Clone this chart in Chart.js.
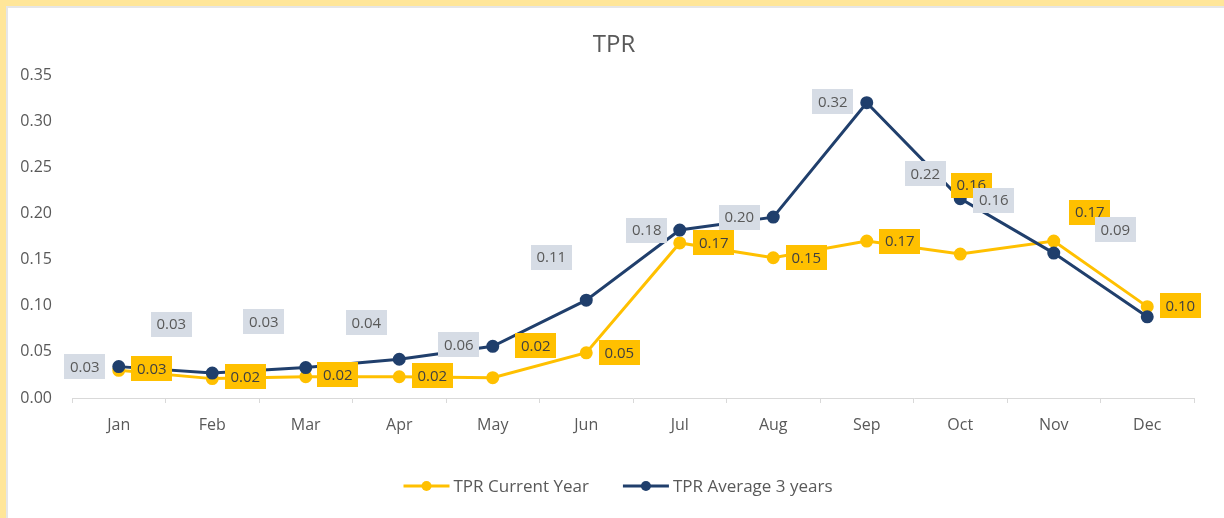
<!DOCTYPE html>
<html>
<head>
<meta charset="utf-8">
<script src="https://cdn.jsdelivr.net/npm/chart.js@4/dist/chart.umd.min.js"></script>
<style>
  html, body { margin: 0; padding: 0; background: #ffffff; }
  #wrap { position: relative; width: 1224px; height: 518px; overflow: hidden; }
  canvas { position: absolute; left: 0; top: 0; }
  .band-top { position: absolute; left: 0; top: 0; width: 1224px; height: 6px; background: #FFE699; }
  .band-left { position: absolute; left: 0; top: 0; width: 6px; height: 518px; background: #FFE699; }
  .line-top { position: absolute; left: 6px; top: 6px; width: 1218px; height: 2px; background: #e6e6e6; }
  .line-left { position: absolute; left: 6px; top: 6px; width: 2px; height: 512px; background: #e6e6e6; }
</style>
</head>
<body>
<div id="wrap">
  <canvas id="c" width="1224" height="518"></canvas>
  <div class="line-top"></div>
  <div class="line-left"></div>
  <div class="band-top"></div>
  <div class="band-left"></div>
</div>
<script>
// ---- data ----
const months = ['Jan','Feb','Mar','Apr','May','Jun','Jul','Aug','Sep','Oct','Nov','Dec'];
const currentYearLabel = 'TPR Current Year';
const average3Label = 'TPR Average 3 years';
const currentYear = [0.030, 0.021, 0.023, 0.023, 0.022, 0.049, 0.168, 0.152, 0.170, 0.156, 0.170, 0.099];
const average3Years = [0.034, 0.027, 0.033, 0.042, 0.056, 0.106, 0.182, 0.196, 0.320, 0.216, 0.157, 0.088];
const yTicks = [0, 0.05, 0.10, 0.15, 0.20, 0.25, 0.30, 0.35];
const chartTitle = 'TPR';

// ---- styling ----
const FONT = '"Open Sans", "Noto Sans", sans-serif';
const TEXT = '#595959';
const YELLOW = '#FFC000';
const NAVY = '#203F6C';
const NAVY_BOX = '#D6DCE5';

// label placement offsets (pixels, relative to each point) – mimic the reference's data labels
const curLabelOffsets = [[33,-2],[33,-2],[32,-2],[33,-1],[43,-32],[33,0],[34,0],[33,0],[33,0],[11,-69],[36,-29],[33,-1]];
const avgLabelOffsets = [[-34,0],[-41,-49],[-42,-46],[-33,-37],[-34,-2],[-35,-43],[-33,0],[-34,0],[-34,-1],[-35,-25],[-60,-53],[-32,-87]];

const titlePlugin = {
  id: 'customTitle',
  afterDraw(chart) {
    const ctx = chart.ctx;
    ctx.save();
    ctx.font = '24px ' + FONT;
    ctx.fillStyle = TEXT;
    ctx.textAlign = 'center';
    ctx.textBaseline = 'middle';
    ctx.fillText(chartTitle, 614, 45);
    ctx.restore();
  }
};

const dataLabelPlugin = {
  id: 'dataLabels',
  afterDatasetsDraw(chart) {
    const ctx = chart.ctx;
    const specs = [
      { idx: 0, offs: curLabelOffsets, bg: YELLOW, fg: '#404040' },
      { idx: 1, offs: avgLabelOffsets, bg: NAVY_BOX, fg: TEXT }
    ];
    ctx.save();
    ctx.font = '15px ' + FONT;
    ctx.textAlign = 'center';
    ctx.textBaseline = 'middle';
    specs.forEach(s => {
      const meta = chart.getDatasetMeta(s.idx);
      const vals = chart.data.datasets[s.idx].data;
      meta.data.forEach((pt, i) => {
        const txt = vals[i].toFixed(2);
        const cx = pt.x + s.offs[i][0];
        const cy = pt.y + s.offs[i][1];
        const w = ctx.measureText(txt).width + 11;
        const h = 25;
        ctx.fillStyle = s.bg;
        ctx.fillRect(Math.round(cx - w / 2), Math.round(cy - h / 2), Math.round(w), h);
        ctx.fillStyle = s.fg;
        ctx.fillText(txt, cx, cy + 1);
      });
    });
    ctx.restore();
  }
};

const legendPlugin = {
  id: 'customLegend',
  afterDraw(chart) {
    const ctx = chart.ctx;
    const items = [
      { text: chart.data.datasets[0].label, color: YELLOW },
      { text: chart.data.datasets[1].label, color: NAVY }
    ];
    ctx.save();
    ctx.font = '17px ' + FONT;
    const markerW = 46, gapText = 4, gapItem = 34;
    let total = 0;
    items.forEach((it, i) => {
      it.w = ctx.measureText(it.text).width;
      total += markerW + gapText + it.w + (i < items.length - 1 ? gapItem : 0);
    });
    let x = 618 - total / 2;
    const y = 486;
    items.forEach(it => {
      ctx.strokeStyle = it.color;
      ctx.lineWidth = 3;
      ctx.beginPath();
      ctx.moveTo(x, y);
      ctx.lineTo(x + markerW, y);
      ctx.stroke();
      ctx.fillStyle = it.color;
      ctx.beginPath();
      ctx.arc(x + markerW / 2, y, 5, 0, Math.PI * 2);
      ctx.fill();
      ctx.fillStyle = TEXT;
      ctx.textAlign = 'left';
      ctx.textBaseline = 'middle';
      ctx.fillText(it.text, x + markerW + gapText, y + 1);
      x += markerW + gapText + it.w + gapItem;
    });
    ctx.restore();
  }
};

new Chart(document.getElementById('c'), {
  type: 'line',
  data: {
    labels: months,
    datasets: [
      {
        label: currentYearLabel,
        data: currentYear,
        borderColor: YELLOW,
        backgroundColor: YELLOW,
        borderWidth: 3,
        pointRadius: 5,
        pointBackgroundColor: YELLOW,
        pointBorderColor: YELLOW,
        tension: 0,
        order: 1
      },
      {
        label: average3Label,
        data: average3Years,
        borderColor: NAVY,
        backgroundColor: NAVY,
        borderWidth: 3,
        pointRadius: 5,
        pointBackgroundColor: NAVY,
        pointBorderColor: NAVY,
        tension: 0,
        order: 0
      }
    ]
  },
  options: {
    responsive: false,
    animation: false,
    layout: { padding: { top: 75, left: 10, right: 30, bottom: 60 } },
    plugins: {
      legend: { display: false },
      tooltip: { enabled: false },
      title: { display: false }
    },
    scales: {
      x: {
        offset: true,
        grid: { display: true, drawOnChartArea: false, drawTicks: true, tickLength: 5, offset: true, color: '#d9d9d9' },
        border: { display: true, color: '#d9d9d9', width: 1 },
        ticks: { color: TEXT, font: { family: FONT, size: 16 }, padding: 13 },
        afterFit(s) { s.height = 60; }
      },
      y: {
        min: 0,
        max: 0.35,
        afterBuildTicks(s) { s.ticks = yTicks.map(v => ({ value: v })); },
        ticks: { color: TEXT, font: { family: FONT, size: 16 }, padding: 20, callback: v => Number(v).toFixed(2) },
        grid: { display: false, drawTicks: false },
        border: { display: false },
        afterFit(s) { s.width = 62; }
      }
    }
  },
  plugins: [dataLabelPlugin, legendPlugin, titlePlugin]
});
</script>
</body>
</html>
